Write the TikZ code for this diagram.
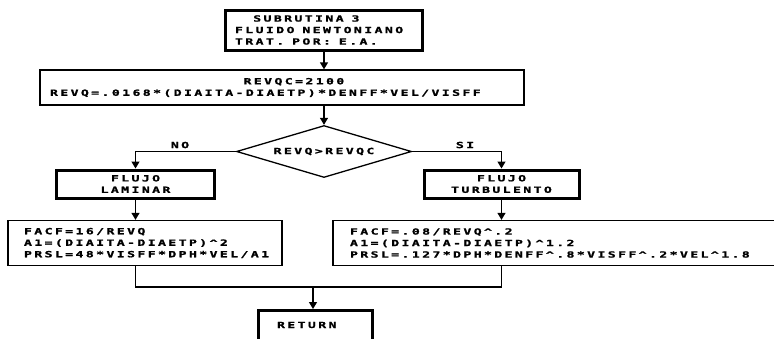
\documentclass[tikz,border=0pt]{standalone}
\usepackage{fontspec}
\usetikzlibrary{shapes.geometric,arrows.meta}
% wide, heavy monospaced lettering in the style of a dot-matrix printout
\newfontfamily\dotfont{DejaVu Sans Mono}[FakeStretch=1.55,LetterSpace=28,FakeBold=1.5]
\newcommand{\chars}[1]{\phantom{#1}}
\newcommand{\blank}{\phantom{X}}

\tikzset{
  dot/.style={font=\dotfont\bfseries\fontsize{8.5}{11.5}\selectfont},
  plainbox/.style={dot, draw, line width=1.3pt, rectangle, inner ysep=0pt, align=left},
  headbox/.style={plainbox, line width=3pt},
  decision/.style={dot, draw, line width=1.3pt, diamond, aspect=3.4, inner sep=0pt,
    minimum width=175pt, minimum height=52pt},
  flow/.style={line width=1.3pt, -{Triangle[width=8pt,length=7pt]}},
  link/.style={line width=1.3pt},
  tag/.style={dot}
}

\begin{document}
\begin{tikzpicture}[x=1pt,y=-1pt]
\useasboundingbox[fill=white] (0,0) rectangle (774,338);

% header of the subroutine
\node[headbox, text width=177pt, inner xsep=10pt, minimum height=40pt] (title) at (323.5,30)
  {\chars{XX}SUBRUTINA\blank3\\FLUIDO\blank NEWTONIANO\\TRAT.\blank POR:\blank E.A.};

% Reynolds number
\node[plainbox, text width=464pt, inner xsep=10pt, minimum height=35pt] (reyn) at (282,87.5)
  {\chars{XXXXXXXXXXXXXXXXXXX}REVQC=2100\\REVQ=.0168*(DIAITA-DIAETP)*DENFF*VEL/VISFF};

% regime test
\node[decision] (test) at (324,151.5) {REVQ>REVQC};

% regime headers
\node[headbox, align=center, minimum width=158pt, minimum height=28pt] (lam) at (135.5,184)
  {FLUJO\\LAMINAR};
\node[headbox, align=center, minimum width=155pt, minimum height=28pt] (turb) at (501.5,184)
  {FLUJO\\TURBULENTO};

% friction factor and pressure loss
\node[plainbox, text width=242pt, inner xsep=16pt, minimum height=45pt] (lform) at (145,243)
  {FACF=16/REVQ\\A1=(DIAITA-DIAETP)\textasciicircum2\\PRSL=48*VISFF*DPH*VEL/A1};
\node[plainbox, text width=433pt, inner xsep=17pt, minimum height=45pt] (tform) at (566.5,243)
  {FACF=.08/REVQ\textasciicircum.2\\A1=(DIAITA-DIAETP)\textasciicircum1.2\\PRSL=.127*DPH*DENFF\textasciicircum.8*VISFF\textasciicircum.2*VEL\textasciicircum1.8};

% end (runs off the lower edge)
\node[headbox, text width=76pt, inner xsep=19pt, text height=7pt, text depth=14pt,
  minimum height=42pt, anchor=north] (ret) at (315,309)
  {RETURN};

% connectors
\draw[flow] (title.south -| test.north) -- (reyn.north -| test.north);
\draw[flow] (reyn.south -| test.north) -- (test.north);
\draw[flow] (test.west) -| (lam.north);
\draw[flow] (test.east) -| (turb.north);
\node[tag] (no) at (180,145) {NO};
\node[tag] (si) at (465,145) {SI};
\draw[flow] (lam.south) -- (lam.south |- lform.north);
\draw[flow] (turb.south) -- (turb.south |- tform.north);

\coordinate (join) at (313,287);
\draw[link] (lam.south |- lform.south) |- (join);
\draw[link] (turb.south |- tform.south) |- (join);
\draw[flow] (join) -- (ret.north -| join);
\end{tikzpicture}
\end{document}
